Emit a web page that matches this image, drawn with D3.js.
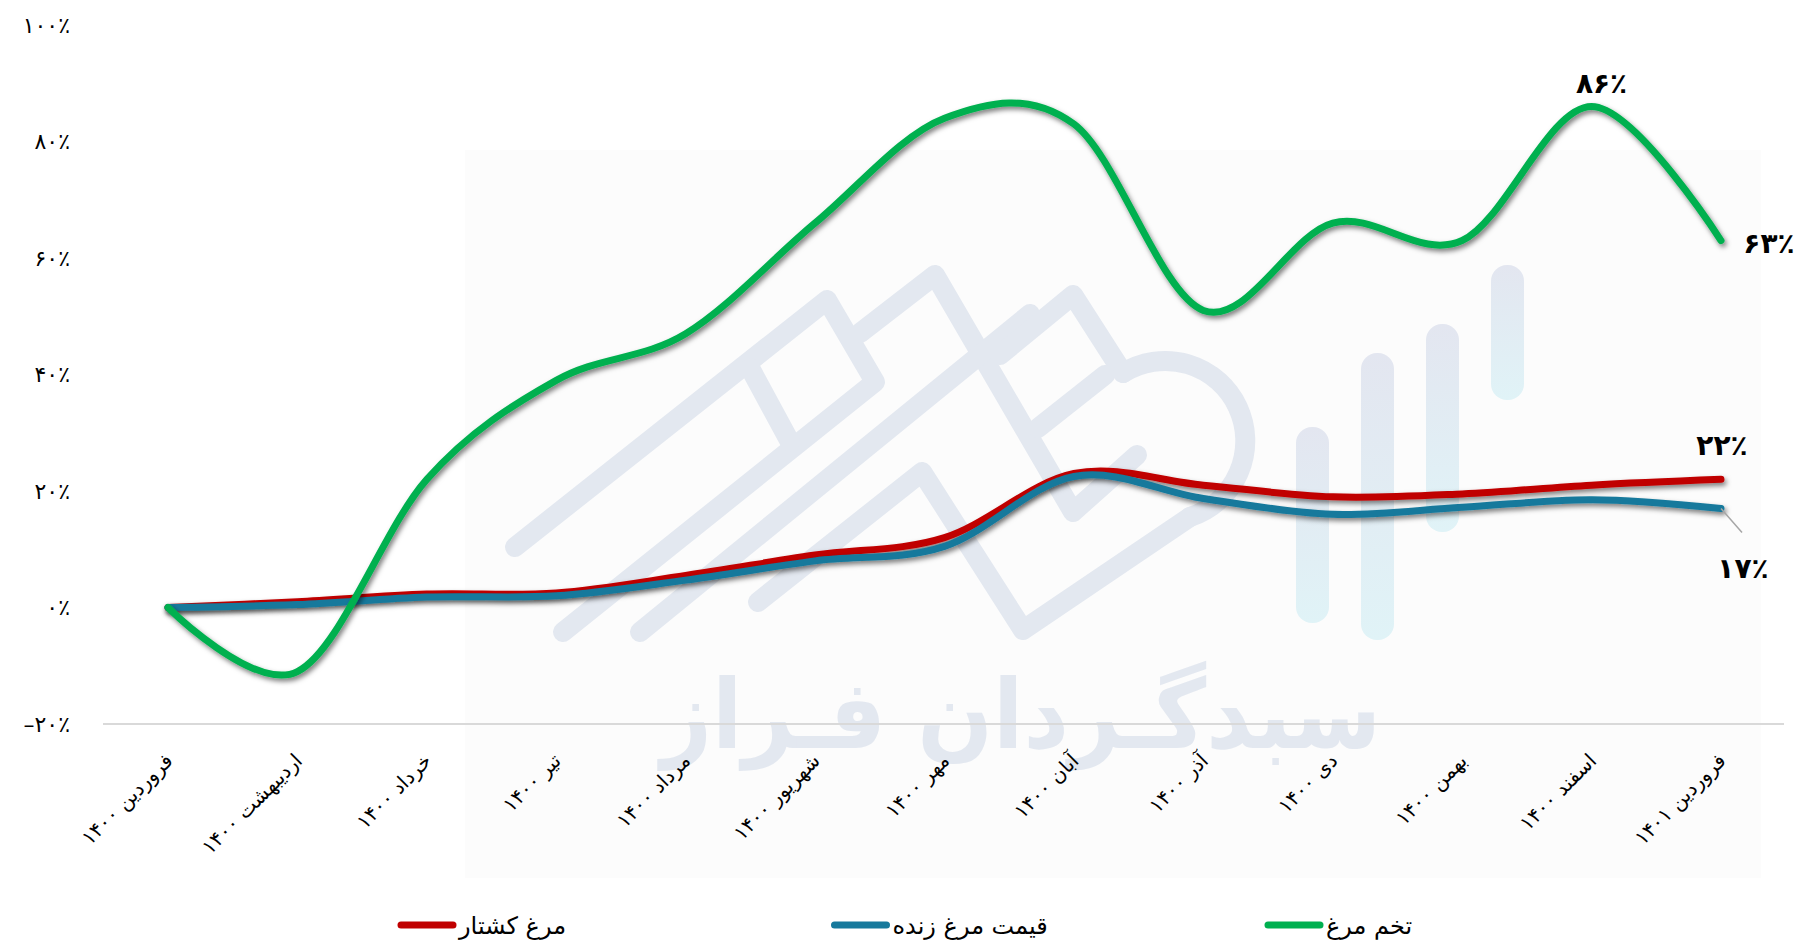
<!DOCTYPE html>
<html>
<head>
<meta charset="utf-8">
<script src="https://cdn.jsdelivr.net/npm/d3@7"></script>
<style>
    body { margin: 0; background: #fff; }
    svg { display: block; font-family: "DejaVu Sans", sans-serif; }
</style>
</head>
<body>
<svg id="chart" width="1799" height="950"></svg>
<script>
// months on the x axis
const months = ["فروردین ۱۴۰۰", "اردیبهشت ۱۴۰۰", "خرداد ۱۴۰۰", "تیر ۱۴۰۰", "مرداد ۱۴۰۰", "شهریور ۱۴۰۰",
    "مهر ۱۴۰۰", "آبان ۱۴۰۰", "آذر ۱۴۰۰", "دی ۱۴۰۰", "بهمن ۱۴۰۰", "اسفند ۱۴۰۰", "فروردین ۱۴۰۱"];

// cumulative change in percent
const slaughtered = [0, 1, 2.3, 2.5, 5.5, 9, 12, 23, 21, 19, 19.5, 21, 22];      // مرغ کشتار
const liveChicken = [0, 0.5, 1.8, 2, 4.7, 8, 10.5, 22.5, 18.7, 16, 17.2, 18.5, 17]; // قیمت مرغ زنده
const eggs = [0, -11, 22, 39, 47, 66, 84, 83, 51, 66, 63, 86, 63];               // تخم مرغ

const yTicks = [-20, 0, 20, 40, 60, 80, 100];
const seriesNames = ["مرغ کشتار", "قیمت مرغ زنده", "تخم مرغ"];

class Chart {
    constructor() {
        this.svg = d3.select("#chart");
        this.width = 1799;
        this.height = 950;
        this.colors = ["#c00000", "#16799c", "#00b050"];

        this.x = d3.scalePoint()
            .domain(months)
            .range([168, 1721]);
        this.y = d3.scaleLinear()
            .domain([-20, 100])
            .range([724, 25]);

        this.series = [slaughtered, liveChicken, eggs];

        this.makeDefs();
        this.drawWatermark();
        this.drawAxes();
        this.drawLines();
        this.drawEndLabels();
        this.drawLegend();
    }

    fa(s) {
        // western digits -> persian digits
        return String(s).replace(/\d/g, d => "۰۱۲۳۴۵۶۷۸۹"[d]);
    }

    makeDefs() {
        let defs = this.svg.append("defs");
        let f = defs.append("filter")
            .attr("id", "shadow")
            .attr("filterUnits", "userSpaceOnUse")
            .attr("x", 0).attr("y", 0)
            .attr("width", this.width).attr("height", this.height);
        f.append("feDropShadow")
            .attr("dx", 2).attr("dy", 3)
            .attr("stdDeviation", 2.5)
            .attr("flood-color", "#000")
            .attr("flood-opacity", 0.5);

        let g = defs.append("linearGradient")
            .attr("id", "barGrad")
            .attr("x1", 0).attr("y1", 0).attr("x2", 0).attr("y2", 1);
        g.append("stop").attr("offset", "0%").attr("stop-color", "#e3e6f0");
        g.append("stop").attr("offset", "100%").attr("stop-color", "#e0f3f7");
    }

    drawWatermark() {
        // faint logo in the background (just decoration)
        let wm = this.svg.append("g").attr("class", "watermark");
        wm.append("rect")
            .attr("x", 465).attr("y", 150)
            .attr("width", 1296).attr("height", 728)
            .attr("fill", "#fcfcfc");

        let logo = [
            [[515, 547], [827, 300], [875, 382], [563, 632]],
            [[750, 368], [790, 442]],
            [[860, 333], [935, 275], [1073, 512], [1137, 455]],
            [[1030, 314], [640, 632]],
            [[1000, 355], [1073, 295], [1123, 373]],
            [[1038, 428], [1105, 375]],
            [[758, 602], [922, 472], [1023, 630], [1190, 517]]
        ];
        wm.selectAll("path.logo")
            .data(logo)
            .join("path")
            .attr("class", "logo")
            .attr("d", d3.line())
            .attr("fill", "none")
            .attr("stroke", "#e3e8f0")
            .attr("stroke-width", 20)
            .attr("stroke-linecap", "round")
            .attr("stroke-linejoin", "round");
        wm.append("path")
            .attr("d", "M1123,373 A80,80 0 1 1 1190,517")
            .attr("fill", "none")
            .attr("stroke", "#e3e8f0")
            .attr("stroke-width", 20)
            .attr("stroke-linecap", "round");

        let bars = [[1296, 427, 623], [1361, 353, 640], [1426, 324, 532], [1491, 265, 400]];
        wm.selectAll("rect.bar")
            .data(bars)
            .join("rect")
            .attr("class", "bar")
            .attr("x", d => d[0]).attr("y", d => d[1])
            .attr("width", 33).attr("height", d => d[2] - d[1])
            .attr("rx", 16)
            .attr("fill", "url(#barGrad)");

        wm.append("text")
            .attr("x", 1021).attr("y", 748)
            .attr("text-anchor", "middle")
            .attr("font-size", 96)
            .attr("font-weight", "bold")
            .attr("fill", "#e3e8f0")
            .attr("textLength", 720)
            .attr("lengthAdjust", "spacingAndGlyphs")
            .text("سبدگـردان فـراز");
    }

    drawAxes() {
        let x0 = 103, x1 = 1784;
        // bottom line at -20%
        this.svg.append("line")
            .attr("x1", x0).attr("x2", x1)
            .attr("y1", this.y(-20)).attr("y2", this.y(-20))
            .attr("stroke", "#d9d9d9")
            .attr("stroke-width", 2);

        this.svg.append("g")
            .selectAll("text")
            .data(yTicks)
            .join("text")
            .attr("x", 70)
            .attr("y", d => this.y(d))
            .attr("dy", "0.35em")
            .attr("text-anchor", "end")
            .attr("font-size", 22)
            .attr("letter-spacing", 2)
            .attr("fill", "#000")
            .text(d => (d < 0 ? "–" : "") + this.fa(Math.abs(d)) + "٪");

        let axisY = this.y(-20);
        this.svg.append("g")
            .selectAll("text")
            .data(months)
            .join("text")
            .attr("transform", d => `translate(${this.x(d) + 6},${axisY + 38}) rotate(-45)`)
            .attr("text-anchor", "end")
            .attr("font-size", 20)
            .attr("letter-spacing", 0.5)
            .attr("fill", "#000")
            .text(d => d);
    }

    drawLines() {
        let line = d3.line()
            .x((d, i) => this.x(months[i]))
            .y(d => this.y(d))
            .curve(d3.curveCardinal.tension(0));

        this.svg.append("g")
            .selectAll("path")
            .data(this.series)
            .join("path")
            .attr("d", line)
            .attr("fill", "none")
            .attr("stroke", (d, i) => this.colors[i])
            .attr("stroke-width", 7)
            .attr("stroke-linecap", "round")
            .attr("stroke-linejoin", "round")
            .attr("filter", "url(#shadow)");
    }

    drawEndLabels() {
        let last = months.length - 1;
        let peak = d3.maxIndex(eggs);
        let labels = [
            { v: eggs[peak], x: this.x(months[peak]) + 10, y: this.y(eggs[peak]) - 14 },
            { v: eggs[last], x: this.x(months[last]) + 48, y: this.y(eggs[last]) + 12 },
            { v: slaughtered[last], x: this.x(months[last]) + 1, y: this.y(slaughtered[last]) - 24 },
            { v: liveChicken[last], x: this.x(months[last]) + 22, y: this.y(liveChicken[last]) + 70 }
        ];
        this.svg.append("g")
            .selectAll("text")
            .data(labels)
            .join("text")
            .attr("x", d => d.x)
            .attr("y", d => d.y)
            .attr("text-anchor", "middle")
            .attr("font-size", 28)
            .attr("font-weight", "bold")
            .attr("fill", "#000")
            .text(d => this.fa(d.v) + "٪");

        // small leader for the 17% label
        let lx = this.x(months[last]), ly = this.y(liveChicken[last]);
        this.svg.append("line")
            .attr("x1", lx).attr("y1", ly)
            .attr("x2", lx + 21).attr("y2", ly + 24)
            .attr("stroke", "#a6a6a6")
            .attr("stroke-width", 1.5);
    }

    drawLegend() {
        let items = seriesNames.map((name, i) => ({ name: name, color: this.colors[i] }));
        let lx = d3.scalePoint().domain(d3.range(items.length)).range([401, 1268]);

        let g = this.svg.append("g")
            .selectAll("g")
            .data(items)
            .join("g")
            .attr("transform", (d, i) => `translate(${lx(i)},925)`);
        g.append("line")
            .attr("x1", 0).attr("x2", 52)
            .attr("stroke", d => d.color)
            .attr("stroke-width", 7)
            .attr("stroke-linecap", "round");
        g.append("text")
            .attr("x", 58)
            .attr("y", 9)
            .attr("font-size", 24)
            .attr("fill", "#000")
            .text(d => d.name);
    }
}

new Chart();
</script>
</body>
</html>
